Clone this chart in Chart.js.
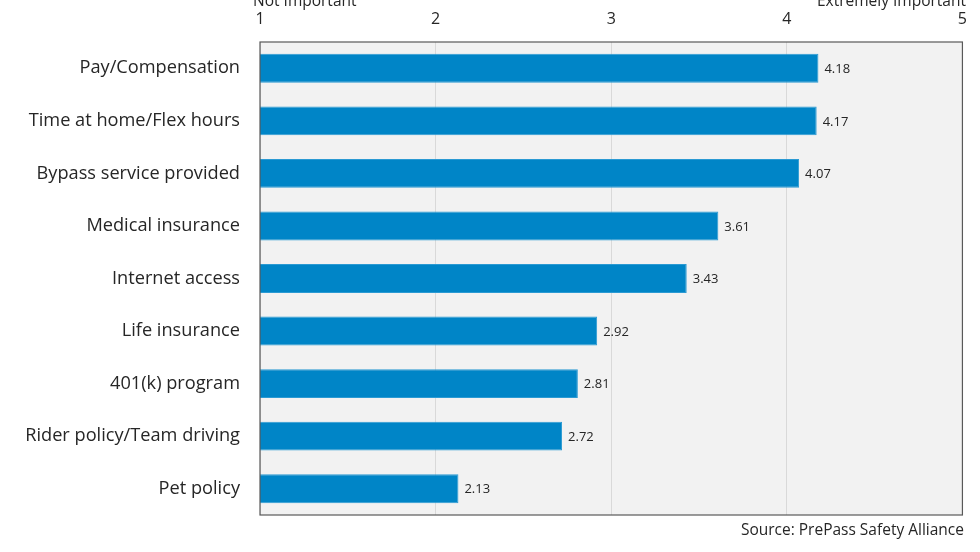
<!DOCTYPE html>
<html><head><meta charset="utf-8">
<script src="https://cdn.jsdelivr.net/npm/chart.js@4"></script>
<style>html,body{margin:0;padding:0;background:#fff;}#wrap{width:980px;height:552px;}</style>
</head><body><div id="wrap"><canvas id="c" width="980" height="552"></canvas></div>
<script>
const categories = ["Pay/Compensation","Time at home/Flex hours","Bypass service provided","Medical insurance","Internet access","Life insurance","401(k) program","Rider policy/Team driving","Pet policy"];
const values = [4.18,4.17,4.07,3.61,3.43,2.92,2.81,2.72,2.13];
const tickLabels = {1:"1",2:"2",3:"3",4:"4",5:"5"};
const lowLabel = "Not Important";
const highLabel = "Extremely Important";
const sourceText = "Source: PrePass Safety Alliance";
const FONT = "'Open Sans', 'Noto Sans', sans-serif";

const decor = {
  id:'decor',
  beforeDraw(chart){
    const {ctx, chartArea:a} = chart;
    ctx.save(); ctx.fillStyle='#f2f2f2'; ctx.fillRect(a.left,a.top,a.right-a.left,a.bottom-a.top); ctx.restore();
  },
  afterDatasetsDraw(chart){
    const {ctx, chartArea:a} = chart;
    const meta = chart.getDatasetMeta(0);
    ctx.save();
    ctx.font = "13px " + FONT; ctx.fillStyle='#262626'; ctx.textBaseline='middle'; ctx.textAlign='left';
    meta.data.forEach((b,i)=>{ ctx.fillText(values[i].toFixed(2), b.x+6, b.y+1); });
    ctx.strokeStyle='#595959'; ctx.lineWidth=1.2; ctx.strokeRect(a.left,a.top,a.right-a.left,a.bottom-a.top);
    ctx.font = "15.5px " + FONT; ctx.fillStyle='#262626'; ctx.textBaseline='middle';
    ctx.textAlign='left'; ctx.fillText(lowLabel, 253, 2);
    ctx.textAlign='right'; ctx.fillText(highLabel, 966, 2);
    ctx.fillText(sourceText, 964, 531);
    ctx.restore();
  }
};

new Chart(document.getElementById('c'), {
  type:'bar',
  data:{ labels:categories, datasets:[{ data:values, backgroundColor:'#0085c7', borderColor:'#2b9ad3', borderWidth:1, barPercentage:0.55, categoryPercentage:1 }] },
  options:{
    indexAxis:'y', responsive:false, animation:false,
    layout:{ padding:{ top:0, right:17, bottom:37, left:0 } },
    plugins:{ legend:{display:false}, tooltip:{enabled:false} },
    scales:{
      x:{ position:'top', min:1, max:5,
          ticks:{ stepSize:1, color:'#262626', font:{family:FONT,size:16}, padding:13, callback:(v)=>tickLabels[v]||'' },
          grid:{ color:'#d9d9d9', drawTicks:false, lineWidth:1 }, border:{display:false},
          afterFit(s){ s.height = 42; } },
      y:{ ticks:{ color:'#262626', font:{family:FONT,size:18.2}, padding:20 },
          grid:{ display:false, drawTicks:false }, border:{display:false},
          afterFit(s){ s.width = 260; } }
    }
  },
  plugins:[decor]
});
</script></body></html>
